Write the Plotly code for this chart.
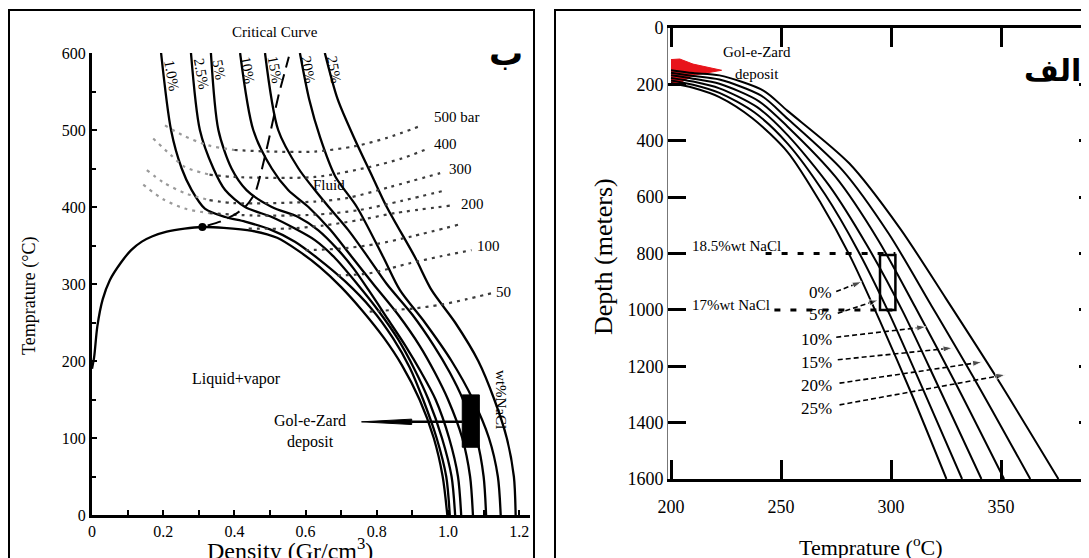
import plotly.graph_objects as go

W, H = 1089, 558
OFF = 8  # page body margin: figure pixel = screen pixel - 8
FONT = "Liberation Serif"

def fx(p):
    return (p - OFF) / W

def fy(p):
    return (H - (p - OFF)) / H

# ---------------- Left panel (ب): density vs temperature ----------------
dome_d = [0.0, 0.006, 0.015, 0.03, 0.05, 0.08, 0.11, 0.14, 0.17, 0.21, 0.26, 0.31, 0.37, 0.45, 0.52, 0.58, 0.64, 0.70, 0.76, 0.82, 0.87, 0.92, 0.96, 0.985, 0.998]
dome_T = [190, 205, 245, 280, 305, 327, 344, 355, 362, 368, 372, 374, 373, 369, 360, 343, 322, 296, 265, 230, 195, 150, 100, 50, 0]

iso_labels = ["1.0%", "2.5%", "5%", "10%", "15%", "20%", "25%"]
iso_d = [
    [0.194, 0.222, 0.252, 0.28, 0.317, 0.374, 0.43, 0.50, 0.57, 0.635, 0.712, 0.785, 0.845, 0.892, 0.93, 0.968, 0.995, 1.005],
    [0.278, 0.303, 0.341, 0.374, 0.43, 0.505, 0.57, 0.626, 0.68, 0.745, 0.805, 0.86, 0.905, 0.945, 0.983, 1.01, 1.02],
    [0.334, 0.355, 0.392, 0.434, 0.505, 0.579, 0.635, 0.69, 0.735, 0.78, 0.83, 0.88, 0.925, 0.965, 1.003, 1.028, 1.037],
    [0.416, 0.453, 0.505, 0.551, 0.608, 0.67, 0.73, 0.79, 0.86, 0.92, 0.963, 1.0, 1.04, 1.062, 1.07],
    [0.486, 0.523, 0.58, 0.626, 0.665, 0.72, 0.775, 0.828, 0.9, 0.96, 1.005, 1.042, 1.08, 1.1, 1.107],
    [0.584, 0.61, 0.641, 0.683, 0.744, 0.818, 0.865, 0.935, 1.01, 1.07, 1.115, 1.14, 1.148],
    [0.654, 0.69, 0.739, 0.787, 0.828, 0.907, 0.954, 1.02, 1.085, 1.13, 1.165, 1.185, 1.19],
]
iso_T = [
    [600, 500, 450, 422, 398, 387, 381, 371, 355, 333, 303, 268, 230, 192, 150, 100, 50, 0],
    [600, 500, 450, 422, 400, 387, 372, 357, 335, 300, 265, 228, 190, 150, 100, 50, 0],
    [600, 500, 450, 422, 400, 387, 370, 345, 320, 290, 255, 220, 185, 150, 100, 50, 0],
    [600, 500, 450, 422, 400, 370, 335, 300, 260, 220, 185, 150, 100, 50, 0],
    [600, 500, 450, 422, 400, 370, 335, 300, 260, 220, 185, 150, 100, 50, 0],
    [600, 540, 490, 440, 400, 335, 292, 250, 200, 150, 100, 50, 0],
    [600, 540, 487, 440, 400, 335, 292, 250, 200, 150, 100, 50, 0],
]
iso_label_d = [0.223, 0.308, 0.357, 0.437, 0.514, 0.607, 0.68]
iso_label_T = [571, 573, 578, 578, 578, 578, 578]

bar_labels = ["500 bar", "400", "300", "", "200", "", "100", "50"]
bar_d = [
    [0.205, 0.26, 0.327, 0.40, 0.5, 0.626, 0.739, 0.83, 0.921],
    [0.172, 0.22, 0.261, 0.33, 0.40, 0.626, 0.78, 0.87, 0.945],
    [0.154, 0.2, 0.261, 0.33, 0.40, 0.626, 0.72, 0.837, 0.978],
    [0.144, 0.2, 0.26, 0.33, 0.45, 0.626, 0.75, 0.87, 0.996],
    [0.44, 0.55, 0.65, 0.75, 0.85, 1.01],
    [0.60, 0.70, 0.80, 0.90, 1.029],
    [0.69, 0.78, 0.893, 0.98, 1.066],
    [0.78, 0.837, 0.9, 0.978, 1.05, 1.123],
]
bar_T = [
    [506, 492, 480, 474, 472, 472, 479, 490, 505],
    [489, 468, 452, 442, 439, 439, 452, 463, 476],
    [448, 432, 418, 409, 405, 407, 412, 426, 444],
    [429, 410, 398, 392, 389, 390, 396, 408, 422],
    [372, 372, 376, 383, 392, 402],
    [344, 346, 352, 362, 377],
    [311, 314, 327, 336, 344],
    [264, 266, 268, 273, 280, 288],
]
bar_light_n = [3, 3, 3, 3, 0, 0, 0, 0]   # leading points drawn in lighter grey (vapour side)
bar_label_d = [1.024, 0.993, 1.034, None, 1.069, None, 1.113, 1.157]
bar_label_T = [517, 482, 450, None, 404, None, 349, 290]

crit_d = [0.325, 0.36, 0.40, 0.43, 0.458, 0.49, 0.523, 0.553]
crit_T = [376, 381, 390, 400, 418, 474, 543, 595]
crit_point = (0.31, 374)

deposit_box_d = [1.04, 1.088]
deposit_box_T = [88, 156]
deposit_arrow_d = [0.757, 0.898, 1.04]
deposit_arrow_T = 121

# ---------------- Right panel (الف): temperature vs depth ----------------
bp_labels = ["0%", "5%", "10%", "15%", "20%", "25%"]
bp_T = [
    [200, 210, 222, 237, 253, 268, 281.5, 295, 310, 325.2],
    [200, 210, 222, 238, 253, 270, 285, 299, 315, 332.3],
    [200, 210, 222, 239, 253, 272, 289, 305, 322, 341.1],
    [200, 210, 222, 240, 253, 275, 294, 311, 330, 351.4],
    [200, 210, 222, 241, 253, 278, 299, 318, 339, 363.3],
    [200, 210, 222, 242, 253, 281, 304, 325, 348, 376.1],
]
bp_D = [
    [195, 212, 245, 320, 440, 620, 811, 1040, 1310, 1600],
    [186, 201, 230, 300, 410, 590, 790, 1010, 1290, 1600],
    [177, 190, 214, 280, 380, 560, 770, 1000, 1280, 1600],
    [168, 180, 198, 260, 350, 530, 750, 990, 1270, 1600],
    [159, 170, 183, 240, 322, 505, 730, 980, 1260, 1600],
    [150, 160, 168, 222, 294, 480, 710, 960, 1240, 1600],
]
arrow_start_T = [275.1, 275.8, 275.1, 275.8, 276.6, 276.6]
arrow_start_D = [935, 1012, 1097, 1177, 1260, 1337]
arrow_end_T = [286.7, 294.2, 316.0, 328.0, 341.4, 352.0]
arrow_end_D = [900, 965, 1060, 1135, 1185, 1230]
label_D = [940, 1018, 1106, 1188, 1270, 1351]

incl_box_T = [295, 302]
incl_box_D = [805, 1000]
salinity_text = ["18.5%wt NaCl", "17%wt NaCl"]
salinity_depth = [800, 1000]
salinity_text_D = [775, 982]
salinity_line_start = [243, 247]

red_T = [200, 204, 210, 223, 210, 204, 200]
red_D = [112, 110, 128, 150, 168, 195, 195]

fig = go.Figure()
SK = dict(hoverinfo="skip")

# Left panel traces
fig.add_trace(go.Scatter(x=dome_d, y=dome_T, mode="lines", line=dict(color="black", width=2.3, shape="spline", smoothing=0.8), xaxis="x", yaxis="y", **SK))
for d, t in zip(iso_d, iso_T):
    fig.add_trace(go.Scatter(x=d, y=t, mode="lines", line=dict(color="black", width=2.3, shape="spline", smoothing=0.8), xaxis="x", yaxis="y", **SK))
for d, t, n in zip(bar_d, bar_T, bar_light_n):
    if n:
        fig.add_trace(go.Scatter(x=d[:n + 1], y=t[:n + 1], mode="lines", line=dict(color="#9a9a9a", width=2.2, dash="3px,5px", shape="spline", smoothing=0.8), xaxis="x", yaxis="y", **SK))
    fig.add_trace(go.Scatter(x=d[n:], y=t[n:], mode="lines", line=dict(color="#3c3c3c", width=2.2, dash="3px,5px", shape="spline", smoothing=0.8), xaxis="x", yaxis="y", **SK))
fig.add_trace(go.Scatter(x=crit_d, y=crit_T, mode="lines", line=dict(color="black", width=2, dash="14px,7px", shape="spline", smoothing=0.6), xaxis="x", yaxis="y", **SK))
fig.add_trace(go.Scatter(x=[crit_point[0]], y=[crit_point[1]], mode="markers", marker=dict(color="black", size=8), xaxis="x", yaxis="y", **SK))
fig.add_trace(go.Scatter(x=[deposit_arrow_d[0], deposit_arrow_d[1], deposit_arrow_d[1], deposit_arrow_d[0]],
                         y=[deposit_arrow_T, deposit_arrow_T + 3.5, deposit_arrow_T - 3.5, deposit_arrow_T],
                         mode="lines", fill="toself", fillcolor="black", line=dict(color="black", width=1), xaxis="x", yaxis="y", **SK))
fig.add_trace(go.Scatter(x=deposit_arrow_d[1:], y=[deposit_arrow_T] * 2, mode="lines", line=dict(color="black", width=2.5), xaxis="x", yaxis="y", **SK))
fig.add_trace(go.Scatter(x=[deposit_box_d[0], deposit_box_d[1], deposit_box_d[1], deposit_box_d[0], deposit_box_d[0]],
                         y=[deposit_box_T[0], deposit_box_T[0], deposit_box_T[1], deposit_box_T[1], deposit_box_T[0]],
                         mode="lines", fill="toself", fillcolor="black", line=dict(color="black", width=1), xaxis="x", yaxis="y", **SK))

# Right panel traces
fig.add_trace(go.Scatter(x=red_T, y=red_D, mode="lines", fill="toself", fillcolor="#e8141b", line=dict(color="#e8141b", width=1), xaxis="x2", yaxis="y2", **SK))
for t, d in zip(bp_T, bp_D):
    fig.add_trace(go.Scatter(x=t, y=d, mode="lines", line=dict(color="black", width=2, shape="spline", smoothing=0.8), xaxis="x2", yaxis="y2", **SK))
for dep, t0 in zip(salinity_depth, salinity_line_start):
    fig.add_trace(go.Scatter(x=[t0, incl_box_T[1]], y=[dep, dep], mode="lines", line=dict(color="black", width=3, dash="6px,10px"), xaxis="x2", yaxis="y2", **SK))
fig.add_trace(go.Scatter(x=[incl_box_T[0], incl_box_T[1], incl_box_T[1], incl_box_T[0], incl_box_T[0]],
                         y=[incl_box_D[0], incl_box_D[0], incl_box_D[1], incl_box_D[1], incl_box_D[0]],
                         mode="lines", line=dict(color="black", width=2.5), xaxis="x2", yaxis="y2", **SK))
for i in range(len(bp_labels)):
    fig.add_trace(go.Scatter(x=[arrow_start_T[i], arrow_end_T[i]], y=[arrow_start_D[i], arrow_end_D[i]], mode="lines+markers",
                             line=dict(color="black", width=1.6, dash="5px,3px"),
                             marker=dict(symbol="arrow", size=[0, 10], angleref="previous", color="black"),
                             xaxis="x2", yaxis="y2", **SK))
fig.add_trace(go.Scatter(x=[300], y=[800], mode="markers", marker=dict(size=1, opacity=0), xaxis="x2", yaxis="y3", **SK))

ann = []
def A(x, y, text, size=14, xref="x", yref="y", angle=0, xanchor="center", yanchor="middle", family=FONT, color="black"):
    ann.append(dict(x=x, y=y, xref=xref, yref=yref, text=text, showarrow=False, textangle=angle,
                    font=dict(family=family, size=size, color=color), xanchor=xanchor, yanchor=yanchor))

for lab, d, t in zip(iso_labels, iso_label_d, iso_label_T):
    A(d, t, lab, size=15, angle=80)
for lab, d, t in zip(bar_labels, bar_label_d, bar_label_T):
    if lab:
        A(d, t, lab, size=15)
A(fx(275), fy(32), "Critical Curve", size=15, xref="paper", yref="paper")
A(0.665, 429, "Fluid", size=15)
A(0.405, 177, "Liquid+vapor", size=16)
A(0.612, 109, "Gol-e-Zard<br>deposit", size=16)
A(1.15, 150, "wt%NaCl", size=15, angle=90)
A(fx(506), fy(53), "<b>ب</b>", size=34, xref="paper", yref="paper", family="DejaVu Sans")
A(fx(29), fy(296), "Temprature (°C)", size=18, xref="paper", yref="paper", angle=-90)
A(fx(290), fy(549), "Density (Gr/cm<sup>3</sup>)", size=24, xref="paper", yref="paper")

for lab, dep in zip(bp_labels, label_D):
    A(274, dep, lab, size=17, xref="x2", yref="y2", xanchor="right")
for txt, dep in zip(salinity_text, salinity_text_D):
    A(208.5, dep, txt, size=15, xref="x2", yref="y2", xanchor="left")
A(239, 85, "Gol-e-Zard", size=15, xref="x2", yref="y2")
A(239, 162, "deposit", size=15, xref="x2", yref="y2")
A(fx(1052), fy(70), "<b>الف</b>", size=30, xref="paper", yref="paper", family="DejaVu Sans")
A(fx(603), fy(257), "Depth (meters)", size=26, xref="paper", yref="paper", angle=-90)
A(fx(871), fy(546), "Temprature (<sup>o</sup>C)", size=22, xref="paper", yref="paper")

shapes = [
    dict(type="rect", xref="paper", yref="paper", x0=1 / W, x1=fx(534), y0=-0.05, y1=fy(10), line=dict(color="black", width=2)),
    dict(type="rect", xref="paper", yref="paper", x0=fx(555), x1=1.05, y0=-0.05, y1=fy(10), line=dict(color="black", width=2)),
]

tickfont_l = dict(family=FONT, size=16, color="black")
tickfont_r = dict(family=FONT, size=18, color="black")

# right panel x range: T=300 at screen 891, 2.2 px per degree
r_left_px, r_right_px = 668, 1093
r_range = [300 - (891 - r_left_px) / 2.2, 300 + (r_right_px - 891) / 2.2]

fig.update_layout(
    width=W, height=H, margin=dict(l=0, r=0, t=0, b=0, pad=0, autoexpand=False),
    paper_bgcolor="white", plot_bgcolor="rgba(0,0,0,0)", showlegend=False,
    annotations=ann, shapes=shapes,
    xaxis=dict(domain=[fx(92), fx(530)], range=[0, 1.2303], anchor="y", showgrid=False, zeroline=False, automargin=False,
               showline=True, linecolor="black", linewidth=3, ticks="inside", ticklen=5, tickwidth=2, tickcolor="black",
               tickvals=[0, 0.2, 0.4, 0.6, 0.8, 1.0, 1.2], ticktext=["0", "0.2", "0.4", "0.6", "0.8", "1.0", "1.2"],
               minor=dict(tickvals=[0.1, 0.3, 0.5, 0.7, 0.9, 1.1], ticks="inside", ticklen=5, tickwidth=2, tickcolor="black"),
               tickfont=tickfont_l),
    yaxis=dict(domain=[fy(515), fy(53)], range=[0, 600], anchor="x", showgrid=False, zeroline=False, automargin=False,
               showline=True, linecolor="black", linewidth=3, ticks="inside", ticklen=5, tickwidth=2, tickcolor="black",
               tickvals=[0, 100, 200, 300, 400, 500, 600],
               minor=dict(tickvals=[50, 150, 250, 350, 450, 550], ticks="inside", ticklen=4, tickwidth=2, tickcolor="black"),
               tickfont=tickfont_l),
    xaxis2=dict(domain=[fx(r_left_px), fx(r_right_px)], range=r_range, anchor="y2", showgrid=False, zeroline=False, automargin=False,
                showline=True, linecolor="black", linewidth=2.5, mirror="ticks", ticks="inside", ticklen=19, tickwidth=2.5,
                tickcolor="black", tickvals=[200, 250, 300, 350], ticklabelstandoff=10, tickfont=tickfont_r),
    yaxis2=dict(domain=[fy(479), fy(28)], range=[1600, 0], anchor="x2", showgrid=False, zeroline=False, automargin=False,
                showline=True, linecolor="#777", linewidth=1, ticks="inside", ticklen=18, tickwidth=2.5, tickcolor="black",
                tickvals=[0, 200, 400, 600, 800, 1000, 1200, 1400, 1600], tickfont=tickfont_r),
    yaxis3=dict(overlaying="y2", side="right", anchor="x2", range=[1600, 0], showgrid=False, zeroline=False, automargin=False,
                showline=False, ticks="inside", ticklen=14, tickwidth=2.5, tickcolor="black",
                tickvals=[200, 400, 600, 800, 1000, 1200, 1400], showticklabels=False),
)

fig.write_html("out.html")
